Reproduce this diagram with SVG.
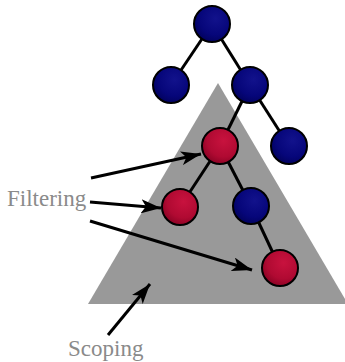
<svg xmlns="http://www.w3.org/2000/svg" width="345" height="362" viewBox="0 0 345 362">
  <style>
    .edge { stroke: #000; stroke-width: 3; fill: none; }
    .arrow { stroke: #000; stroke-width: 3; fill: none; marker-end: url(#head); }
    .blue { fill: url(#gBlue); stroke: #000; stroke-width: 2; }
    .red { fill: url(#gRed); stroke: #000; stroke-width: 2; }
    .label { font-family: "Liberation Serif", "Times New Roman", serif; font-size: 23px; fill: #8a8a8a; }
  </style>
  <defs>
    <radialGradient id="gBlue" cx="0.6" cy="0.35" r="0.75">
      <stop offset="0" stop-color="#12128c"/>
      <stop offset="0.6" stop-color="#06067a"/>
      <stop offset="1" stop-color="#000055"/>
    </radialGradient>
    <radialGradient id="gRed" cx="0.6" cy="0.35" r="0.75">
      <stop offset="0" stop-color="#c8123e"/>
      <stop offset="0.6" stop-color="#b00a32"/>
      <stop offset="1" stop-color="#800020"/>
    </radialGradient>
    <marker id="head" markerUnits="userSpaceOnUse" markerWidth="22" markerHeight="14" refX="20" refY="7" orient="auto">
      <path d="M0,0 L20,7 L0,14 L5,7 Z" fill="#000"/>
    </marker>
  </defs>

  <!-- scope region -->
  <polygon id="scope" points="218,83 348,304 88,304" fill="#999999"/>

  <!-- tree edges and callout arrows -->
  <g id="connectors">
    <line class="edge" x1="212" y1="24" x2="171" y2="85"/>
    <line class="edge" x1="212" y1="24" x2="250" y2="85"/>
    <line class="edge" x1="250" y1="85" x2="220" y2="146"/>
    <line class="edge" x1="250" y1="85" x2="289" y2="146"/>
    <line class="edge" x1="220" y1="146" x2="180" y2="207"/>
    <line class="edge" x1="220" y1="146" x2="251" y2="206"/>
    <line class="edge" x1="251" y1="206" x2="280" y2="268"/>
    <line class="arrow" x1="91" y1="178" x2="201" y2="154"/>
    <line class="arrow" x1="90" y1="202" x2="161" y2="208"/>
    <line class="arrow" x1="90" y1="221" x2="252" y2="270"/>
    <line class="arrow" x1="108" y1="335" x2="150" y2="284"/>
  </g>

  <g id="n-root"><circle class="blue" cx="212" cy="24" r="18"/></g>
  <g id="n-left"><circle class="blue" cx="171" cy="85" r="18"/></g>
  <g id="n-right"><circle class="blue" cx="250" cy="85" r="18"/></g>
  <g id="n-right-right"><circle class="blue" cx="289" cy="146" r="18"/></g>
  <g id="n-filter-1"><circle class="red" cx="220" cy="146" r="18"/></g>
  <g id="n-filter-2"><circle class="red" cx="180" cy="207" r="18"/></g>
  <g id="n-mid"><circle class="blue" cx="251" cy="206" r="18"/></g>
  <g id="n-filter-3"><circle class="red" cx="280" cy="268" r="18"/></g>

  <g id="lbl-filtering"><text class="label" x="7" y="206">Filtering</text></g>
  <g id="lbl-scoping"><text class="label" x="68" y="356">Scoping</text></g>
</svg>
